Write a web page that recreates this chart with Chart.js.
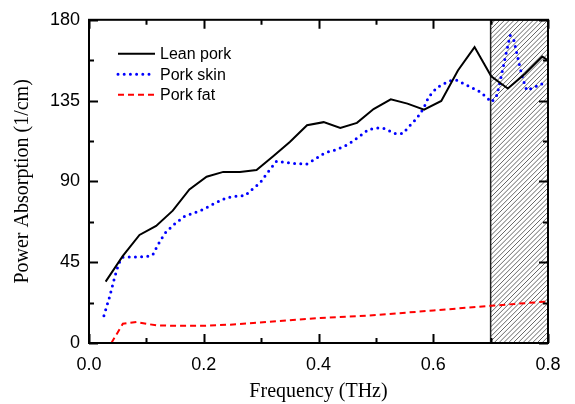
<!DOCTYPE html>
<html>
<head>
<meta charset="utf-8">
<script src="https://cdn.jsdelivr.net/npm/chart.js@4.4.1/dist/chart.umd.min.js"></script>
<style>
  html, body { margin: 0; padding: 0; background: #fff; }
  #wrap { width: 575px; height: 404px; }
</style>
</head>
<body>
<div id="wrap"><canvas id="chart" width="575" height="404"></canvas></div>
<script>
// values
const leanFreq = [0.029, 0.059, 0.088, 0.117, 0.146, 0.175, 0.205, 0.234, 0.263, 0.292, 0.321, 0.350, 0.380, 0.409, 0.438, 0.467, 0.496, 0.526, 0.555, 0.584, 0.614, 0.643, 0.672, 0.701, 0.730, 0.760, 0.790, 0.800];
const leanAbs = [34.2, 48.5, 60.2, 65.2, 73.7, 85.5, 92.6, 95.3, 95.3, 96.3, 104, 112, 121.3, 123, 119.8, 122.6, 130.3, 135.7, 133.3, 130, 134.8, 151.8, 164.8, 148.5, 141.7, 150, 159.6, 157.4];

const skinFreq = [0.026, 0.036, 0.045, 0.052, 0.059, 0.100, 0.111, 0.120, 0.132, 0.147, 0.167, 0.181, 0.199, 0.219, 0.240, 0.263, 0.272, 0.283, 0.298, 0.310, 0.327, 0.356, 0.379, 0.391, 0.411, 0.432, 0.452, 0.472, 0.487, 0.504, 0.516, 0.533, 0.547, 0.557, 0.571, 0.583, 0.592, 0.606, 0.627, 0.641, 0.659, 0.682, 0.702, 0.711, 0.717, 0.725, 0.734, 0.740, 0.749, 0.756, 0.763, 0.775, 0.788, 0.798];
const skinAbs = [15.2, 25.9, 37, 44.4, 47.8, 48.1, 49, 54.6, 61, 65.7, 70.7, 72.2, 74.4, 77.8, 81, 82, 82, 85.2, 89.2, 94.4, 101.3, 100, 99.6, 101.8, 105.9, 107.8, 110.7, 115.2, 118.9, 119.8, 119.4, 116.7, 116.7, 120.3, 125, 130.6, 137, 142.2, 145.9, 146.3, 143.5, 139.8, 134.2, 138, 146.3, 158.3, 171.3, 169.4, 156.5, 147.2, 140.7, 142.2, 144.4, 143];

const fatFreq = [0.039, 0.059, 0.083, 0.100, 0.118, 0.152, 0.199, 0.246, 0.286, 0.344, 0.403, 0.484, 0.600, 0.699, 0.798];
const fatAbs = [0, 10.7, 11.7, 10.7, 9.8, 9.6, 9.6, 10.2, 11.1, 12.6, 13.9, 15.2, 18.1, 20.7, 23.1];

const seriesNames = ['Lean pork', 'Pork skin', 'Pork fat'];
const hatchFrom = 0.7;
const hatchTo = 0.8;

const toPoints = (xs, ys) => xs.map((x, i) => ({ x: x, y: ys[i] }));

// inward ticks on all four sides, frame, hatched band, legend
const framePlugin = {
    id: 'frame',
    beforeDatasetsDraw(chart) {
        const { ctx, chartArea: a, scales: { x } } = chart;
        const x0 = x.getPixelForValue(hatchFrom);
        const x1 = x.getPixelForValue(hatchTo);
        ctx.save();
        ctx.beginPath();
        ctx.rect(x0, a.top, x1 - x0, a.bottom - a.top);
        ctx.clip();
        ctx.strokeStyle = '#555';
        ctx.lineWidth = 0.9;
        ctx.beginPath();
        const h = a.bottom - a.top;
        for (let s = x0 - h; s < x1 + 5; s += 4.8) {
            ctx.moveTo(s, a.bottom);
            ctx.lineTo(s + h, a.top);
        }
        ctx.stroke();
        ctx.restore();
        ctx.save();
        ctx.strokeStyle = '#222';
        ctx.lineWidth = 1.5;
        ctx.strokeRect(x0, a.top, x1 - x0, a.bottom - a.top);
        ctx.restore();
    },
    afterDraw(chart) {
        const { ctx, chartArea: a, scales: { x, y } } = chart;
        ctx.save();
        ctx.strokeStyle = '#000';
        ctx.lineWidth = 2;
        ctx.strokeRect(a.left, a.top, a.right - a.left, a.bottom - a.top);

        const withMinor = (scale) => {
            const vals = scale.ticks.map(t => t.value);
            const out = vals.map(v => ({ v: v, major: true }));
            for (let i = 0; i < vals.length - 1; i++) {
                out.push({ v: (vals[i] + vals[i + 1]) / 2, major: false });
            }
            return out;
        };
        ctx.beginPath();
        withMinor(x).forEach(t => {
            const px = Math.round(x.getPixelForValue(t.v)) + 0.5;
            const len = t.major ? 9 : 5;
            ctx.moveTo(px, a.bottom); ctx.lineTo(px, a.bottom - len);
            ctx.moveTo(px, a.top); ctx.lineTo(px, a.top + len);
        });
        withMinor(y).forEach(t => {
            const py = Math.round(y.getPixelForValue(t.v)) + 0.5;
            const len = t.major ? 9 : 5;
            ctx.moveTo(a.left, py); ctx.lineTo(a.left + len, py);
            ctx.moveTo(a.right, py); ctx.lineTo(a.right - len, py);
        });
        ctx.stroke();

        // legend
        ctx.font = '16px "Liberation Sans", Arial, sans-serif';
        ctx.textBaseline = 'middle';
        ctx.fillStyle = '#000';
        chart.data.datasets.forEach((ds, i) => {
            const ly = a.top + 34 + i * 20.5;
            ctx.save();
            ctx.strokeStyle = ds.borderColor;
            ctx.lineWidth = ds.borderWidth;
            ctx.lineCap = ds.borderCapStyle || 'butt';
            ctx.setLineDash(ds.borderDash || []);
            ctx.beginPath();
            ctx.moveTo(118, ly);
            ctx.lineTo(155, ly);
            ctx.stroke();
            ctx.restore();
            ctx.fillText(ds.label, 160, ly + 1);
        });
        ctx.restore();
    }
};

new Chart(document.getElementById('chart'), {
    type: 'line',
    data: {
        datasets: [
            {
                label: seriesNames[0],
                data: toPoints(leanFreq, leanAbs),
                borderColor: '#000000',
                borderWidth: 2,
                pointRadius: 0,
                tension: 0
            },
            {
                label: seriesNames[1],
                data: toPoints(skinFreq, skinAbs),
                borderColor: '#0000ff',
                borderWidth: 3,
                borderDash: [0, 6.2],
                borderCapStyle: 'round',
                pointRadius: 0,
                tension: 0
            },
            {
                label: seriesNames[2],
                data: toPoints(fatFreq, fatAbs),
                borderColor: '#ff0000',
                borderWidth: 2,
                borderDash: [6, 4],
                pointRadius: 0,
                tension: 0
            }
        ]
    },
    options: {
        responsive: false,
        animation: false,
        layout: { padding: { top: 19, right: 27, left: 0, bottom: 0 } },
        plugins: { legend: { display: false }, tooltip: { enabled: false } },
        scales: {
            x: {
                type: 'linear',
                min: 0,
                max: 0.8,
                afterFit: (scale) => { scale.height = 61; },
                grid: { display: false, drawTicks: false },
                border: { display: false },
                ticks: {
                    stepSize: 0.2,
                    padding: 11,
                    color: '#000',
                    font: { family: '"Liberation Sans", Arial, sans-serif', size: 18 },
                    callback: (v) => Number(v).toFixed(1)
                },
                title: {
                    display: true,
                    text: 'Frequency (THz)',
                    color: '#000',
                    padding: { top: 0, bottom: 0 },
                    font: { family: '"Liberation Serif", "Times New Roman", serif', size: 20 }
                }
            },
            y: {
                min: 0,
                max: 180,
                afterFit: (scale) => { scale.width = 89; },
                grid: { display: false, drawTicks: false },
                border: { display: false },
                ticks: {
                    stepSize: 45,
                    padding: 9,
                    color: '#000',
                    font: { family: '"Liberation Sans", Arial, sans-serif', size: 18 }
                },
                title: {
                    display: true,
                    text: 'Power Absorption (1/cm)',
                    color: '#000',
                    padding: { top: 11, bottom: 0 },
                    font: { family: '"Liberation Serif", "Times New Roman", serif', size: 20 }
                }
            }
        }
    },
    plugins: [framePlugin]
});
</script>
</body>
</html>
